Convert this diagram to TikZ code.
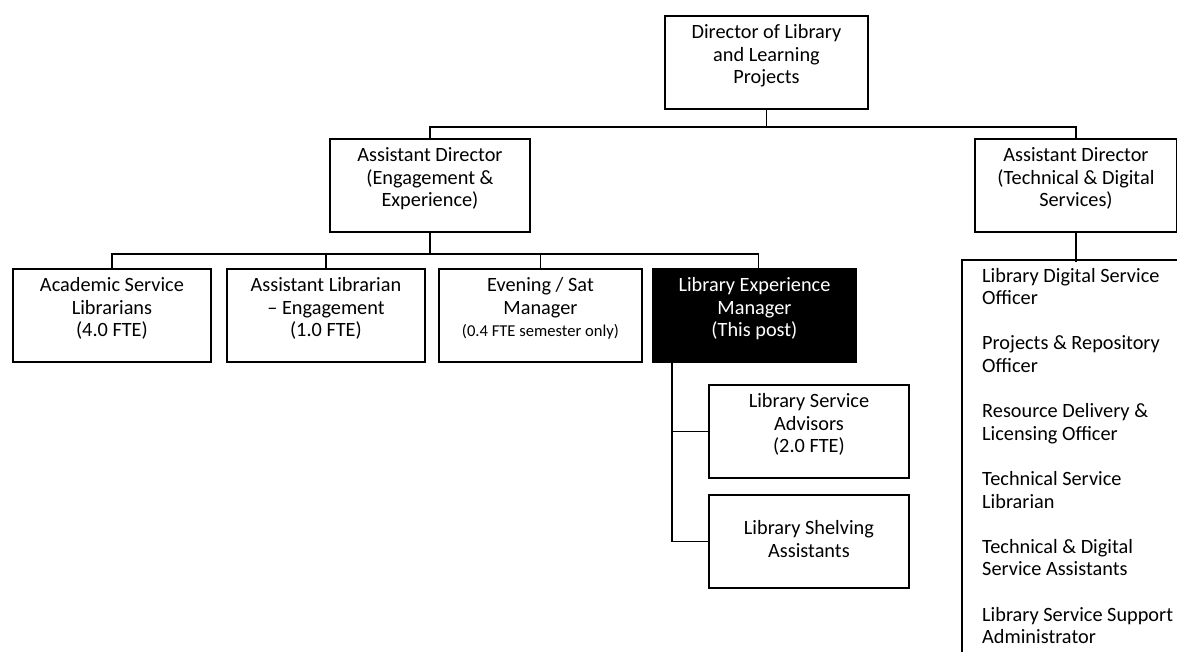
\documentclass[tikz,border=0pt]{standalone}
\usepackage{fontspec}
\setmainfont{Carlito}
\newcommand{\boxtop}{8.5pt}
\newcommand{\bx}[3]{\parbox[c][#2][t]{#1}{\centering\vspace*{\boxtop}#3\par}}
\tikzset{
  orgbox/.style={draw, line width=1.9pt, inner sep=0pt, anchor=north west,
    font=\fontsize{20.3}{22.7}\selectfont},
  postbox/.style={orgbox, fill=black, text=white},
  link/.style={line width=1.9pt}
}
\begin{document}
\begin{tikzpicture}[x=1pt,y=-1pt]
\useasboundingbox (0,0) rectangle (1177,651);
\node[orgbox] (dir) at (664,15) {\bx{203pt}{93pt}{Director of Library\\and Learning\\Projects}};
\node[orgbox] (ade) at (329,138) {\bx{200pt}{93pt}{Assistant Director\\(Engagement \&\\Experience)}};
\node[orgbox] (adt) at (974,138) {\bx{202pt}{93pt}{Assistant Director\\(Technical \& Digital\\Services)}};
\node[orgbox] (acad) at (12,268) {\bx{198pt}{93pt}{Academic Service\\Librarians\\(4.0 FTE)}};
\node[orgbox] (asst) at (226,268) {\bx{198pt}{93pt}{Assistant Librarian\\– Engagement\\(1.0 FTE)}};
\node[orgbox] (eve) at (438,268) {\bx{203pt}{93pt}{Evening / Sat\\Manager\\{\fontsize{16.6}{22.7}\selectfont(0.4 FTE semester only)}}};
\node[postbox] (lem) at (652,268) {\bx{203pt}{93pt}{Library Experience\\Manager\\(This post)}};
\node[orgbox] (lsa) at (708,384) {\bx{200pt}{93pt}{Library Service\\Advisors\\(2.0 FTE)}};
\node[orgbox] (lsh) at (708,494) {\bx{200pt}{93pt}{\vspace*{17pt}Library Shelving\\Assistants}};
\node[anchor=base west, inner sep=0pt, text width=195pt, align=flush left,
  font=\fontsize{20.3}{22.6}\selectfont] (list) at (982,282)
  {Library Digital Service\\Officer\\[22.6pt]Projects \& Repository\\Officer\\[22.6pt]Resource Delivery \&\\Licensing Officer\\[22.6pt]Technical Service\\Librarian\\[22.6pt]Technical \& Digital\\Service Assistants\\[22.6pt]Library Service Support\\Administrator};
% connectors
\draw[link] (dir.south) -- ++(0,17) coordinate (j1);
\draw[link] (ade.north) |- (j1) -| (adt.north);
\draw[link] (ade.south) -- ++(0,21) coordinate (j2);
\draw[link] (acad.north) |- (j2) -| ([xshift=4pt]lem.north);
\draw[link] (asst.north) -- (asst.north |- j2);
\draw[link] (eve.north) -- (eve.north |- j2);
\coordinate (lv) at ([xshift=20pt]lem.south west);
\draw[link] (lv) |- (lsh.west);
\draw[link] (lv |- lsa.west) -- (lsa.west);
\draw[link] (adt.south) -- ++(0,29) coordinate (j3);
\coordinate (lb) at (962,652);
\coordinate (rt) at (1178,260);
\draw[link] (lb) |- (rt);
\end{tikzpicture}
\end{document}
